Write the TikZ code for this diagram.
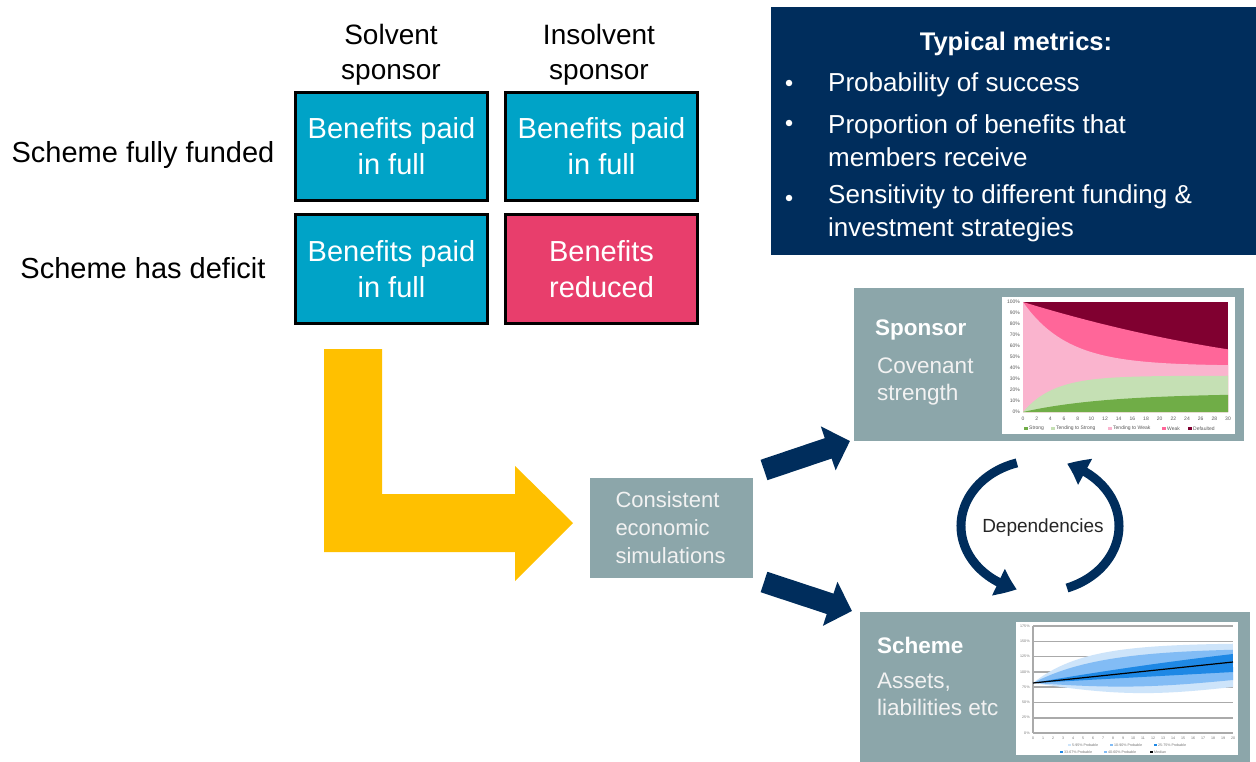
\documentclass[tikz,border=0pt]{standalone}
\usepackage{fontspec}
\setmainfont{Liberation Sans}
\usetikzlibrary{arrows.meta,bending}

\definecolor{cellblue}{RGB}{0,163,199}
\definecolor{cellpink}{RGB}{232,62,108}
\definecolor{navy}{RGB}{0,45,92}
\definecolor{panelgrey}{RGB}{140,166,170}
\definecolor{amber}{RGB}{255,192,0}
\definecolor{softwhite}{RGB}{242,242,242}
% covenant chart colours
\definecolor{cvstrong}{RGB}{112,173,71}
\definecolor{cvtstrong}{RGB}{197,224,180}
\definecolor{cvtweak}{RGB}{250,180,206}
\definecolor{cvweak}{RGB}{255,102,153}
\definecolor{cvdef}{RGB}{128,0,48}
% funding fan colours
\definecolor{fanouter}{RGB}{205,228,250}
\definecolor{fanmid}{RGB}{130,188,245}
\definecolor{faninner}{RGB}{30,136,229}
\definecolor{gridgrey}{RGB}{170,170,170}

\begin{document}
\begin{tikzpicture}[x=1pt,y=-1pt,
  cell/.style={draw=black, line width=3pt, minimum width=192pt, minimum height=108pt,
    text=white, align=center, inner sep=0pt, font=\fontsize{29pt}{36pt}\selectfont},
  rowlabel/.style={font=\fontsize{29pt}{36pt}\selectfont, inner sep=0pt},
  collabel/.style={font=\fontsize{28pt}{35pt}\selectfont, align=center, inner sep=0pt},
  metric/.style={text=white, anchor=west, align=left, inner sep=0pt,
    font=\fontsize{26pt}{33pt}\selectfont},
  bulletdot/.style={circle, fill=white, minimum size=6.5pt, inner sep=0pt},
  panel/.style={fill=panelgrey, anchor=north west, inner sep=0pt},
  paneltitle/.style={text=white, anchor=west, inner sep=0pt,
    font=\bfseries\fontsize{22.5pt}{27pt}\selectfont},
  paneltext/.style={text=softwhite, anchor=west, align=left, inner sep=0pt,
    font=\fontsize{22.5pt}{27pt}\selectfont},
  chartbg/.style={fill=white, anchor=north west, inner sep=0pt},
  ticklbl/.style={text=black!65, inner sep=0pt, font=\fontsize{5pt}{6pt}\selectfont},
  finelbl/.style={text=black!55, inner sep=0pt, font=\fontsize{3.6pt}{4pt}\selectfont},
  flowarrow/.style={navy, line width=21.5pt, -{Triangle[width=45pt,length=23pt]}},
  looparrow/.style={navy, line width=9pt, -{Triangle[width=28pt,length=20pt,bend]}}
]
\useasboundingbox (0,0) rectangle (1256,762);

% ---------- outcome grid ----------
\node[collabel] (colA) at (391,55) {Solvent\\sponsor};
\node[collabel] (colB) at (599,55) {Insolvent\\sponsor};
\node[rowlabel] (rowA) at (143,155) {Scheme fully funded};
\node[rowlabel] (rowB) at (143,268.5) {Scheme has deficit};

\node[cell, fill=cellblue] (c11) at (391.5,146.5) {Benefits paid\\in full};
\node[cell, fill=cellblue] (c12) at (601.5,146.5) {Benefits paid\\in full};
\node[cell, fill=cellblue] (c21) at (391.5,269) {Benefits paid\\in full};
\node[cell, fill=cellpink] (c22) at (601.5,269) {Benefits\\reduced};

% ---------- bent arrow ----------
\fill[amber] (324,349) -- (382,349) -- (382,494) -- (515,494) -- (515,466)
  -- (573,523) -- (515,581) -- (515,552) -- (324,552) -- cycle;

% ---------- metrics box ----------
\node[fill=navy, anchor=north west, minimum width=485pt, minimum height=248pt, inner sep=0pt]
  (metrics) at (771,7) {};
\node[text=white, inner sep=0pt, font=\bfseries\fontsize{25.5pt}{30pt}\selectfont]
  (mtitle) at (1016,44) {Typical metrics:};
\node[bulletdot] (b1) at (789,83) {};
\node[bulletdot] (b2) at (789,123) {};
\node[bulletdot] (b3) at (789,198) {};
\node[metric] (m1) at (828,84.5) {Probability of success};
\node[metric] (m2) at (828,141) {Proportion of benefits that\\members receive};
\node[metric] (m3) at (828,213) {Sensitivity to different funding \&\\investment strategies};

% ---------- simulations box ----------
\node[fill=panelgrey, minimum width=163pt, minimum height=100pt, text width=112pt,
  inner xsep=25.5pt, inner ysep=0pt, align=left, text=softwhite,
  font=\fontsize{22pt}{28pt}\selectfont] (sim) at (671.5,528)
  {Consistent\\economic\\simulations};

% ---------- sponsor panel ----------
\node[panel, minimum width=390pt, minimum height=153pt] (sponsor) at (854,288) {};
\node[paneltitle] (sptitle) at (875,330) {Sponsor};
\node[paneltext] (sptext) at (877,381) {Covenant\\strength};
\node[chartbg, minimum width=233pt, minimum height=137pt] (spchart) at (1002,297) {};

% stacked covenant areas (x: 0..30 years, y: 0..100%)
\fill[cvdef] (1023,302) rectangle (1228,412);
\fill[cvweak] plot[domain=0:30,samples=61]
  ({1023+6.8333*\x},{412-1.1*(100-1.9*\x+0.0155*\x*\x)}) -- (1228,412) -- (1023,412) -- cycle;
\fill[cvtweak] plot[domain=0:30,samples=61]
  ({1023+6.8333*\x},{412-1.1*(42+58*exp(-\x/6.5))}) -- (1228,412) -- (1023,412) -- cycle;
\fill[cvtstrong] plot[domain=0:30,samples=61]
  ({1023+6.8333*\x},{412-1.1*(33*(1-exp(-\x/4.5)))}) -- (1228,412) -- (1023,412) -- cycle;
\fill[cvstrong] plot[domain=0:30,samples=61]
  ({1023+6.8333*\x},{412-1.1*(17*(1-exp(-\x/12)))}) -- (1228,412) -- (1023,412) -- cycle;
\foreach \p in {0,10,...,100}
  \node[ticklbl, anchor=east] (sy\p) at (1020,{412-1.1*\p}) {\p\%};
\foreach \t in {0,2,...,30}
  \node[ticklbl] (sx\t) at ({1023+6.8333*\t},418.5) {\t};
\foreach \xx/\cc/\lab [count=\i] in {1024/cvstrong/Strong,1051/cvtstrong/Tending to Strong,
    1108/cvtweak/Tending to Weak,1162/cvweak/Weak,1188/cvdef/Defaulted}{
  \fill[\cc] (\xx,426.5) rectangle ++(3.5,3.5);
  \node[ticklbl, anchor=west] (sl\i) at (\xx+5,428.3) {\lab};
}

% ---------- scheme panel ----------
\node[panel, minimum width=390pt, minimum height=150pt] (scheme) at (860,612) {};
\node[paneltitle] (sctitle) at (877,645) {Scheme};
\node[paneltext] (sctext) at (877,694.5) {Assets,\\liabilities etc};
\node[chartbg, minimum width=222pt, minimum height=133pt] (scchart) at (1016,622) {};

% funding level fan chart
\foreach \k in {0,...,7}
  \draw[gridgrey, line width=1.6pt] (1033,{733-15.28*\k}) -- (1233,{733-15.28*\k});
\draw[gridgrey, line width=1.6pt] (1033,626) -- (1033,733);
\fill[fanouter] plot[domain=0:1,samples=41] ({1033+200*\x},{683-40*(1-exp(-4*\x))})
  -- plot[domain=1:0,samples=41] ({1033+200*\x},{683+8*sin(180*\x)+4*\x}) -- cycle;
\fill[fanmid] plot[domain=0:1,samples=41] ({1033+200*\x},{683-35*(1-exp(-3*\x))})
  -- plot[domain=1:0,samples=41] ({1033+200*\x},{683+5*sin(180*\x)-3*\x}) -- cycle;
\fill[faninner] plot[domain=0:1,samples=41] ({1033+200*\x},{683-34.8*\x+5.8*\x*\x})
  -- plot[domain=1:0,samples=41] ({1033+200*\x},{683-11*\x}) -- cycle;
\draw[black, line width=1.2pt] (1033,683) -- (1233,662);
\foreach \v [count=\k from 0] in {0,25,50,75,100,125,150,175}
  \node[finelbl, anchor=east] (fy\k) at (1030,{733-15.28*\k}) {\v\,\%};
\foreach \t in {0,...,20}
  \node[finelbl] (fx\t) at ({1033+10*\t},738.5) {\t};
\foreach \xx/\yy/\cc/\lab [count=\i] in {
    1068/745/fanouter/5-95\% Probable, 1110/745/fanmid/10-90\% Probable,
    1154/745/faninner/25-75\% Probable, 1060/752/faninner/33-67\% Probable,
    1104/752/fanmid/40-60\% Probable, 1150/752/black/Median}{
  \fill[\cc] (\xx,\yy-1) rectangle ++(3,2);
  \node[finelbl, anchor=west] (fl\i) at (\xx+4,\yy) {\lab};
}

% ---------- flow arrows ----------
\coordinate (upTail) at (764,470);
\coordinate (upHead) at (850,441);
\coordinate (dnTail) at (764,582);
\coordinate (dnHead) at (852,611);
\draw[flowarrow] (upTail) -- (upHead);
\draw[flowarrow] (dnTail) -- (dnHead);

% ---------- dependency loop ----------
\node[text=black!85, inner sep=0pt, font=\fontsize{19pt}{23pt}\selectfont] (dep) at (1043,528) {Dependencies};
\coordinate (loopL) at (1016.9,462.9);
\coordinate (loopR) at (1067,588);
\draw[looparrow] (loopL) arc[start angle=107, end angle=253, x radius=79pt, y radius=66pt];
\draw[looparrow] (loopR) arc[start angle=-70, end angle=70, x radius=79pt, y radius=66pt];
\end{tikzpicture}
\end{document}
